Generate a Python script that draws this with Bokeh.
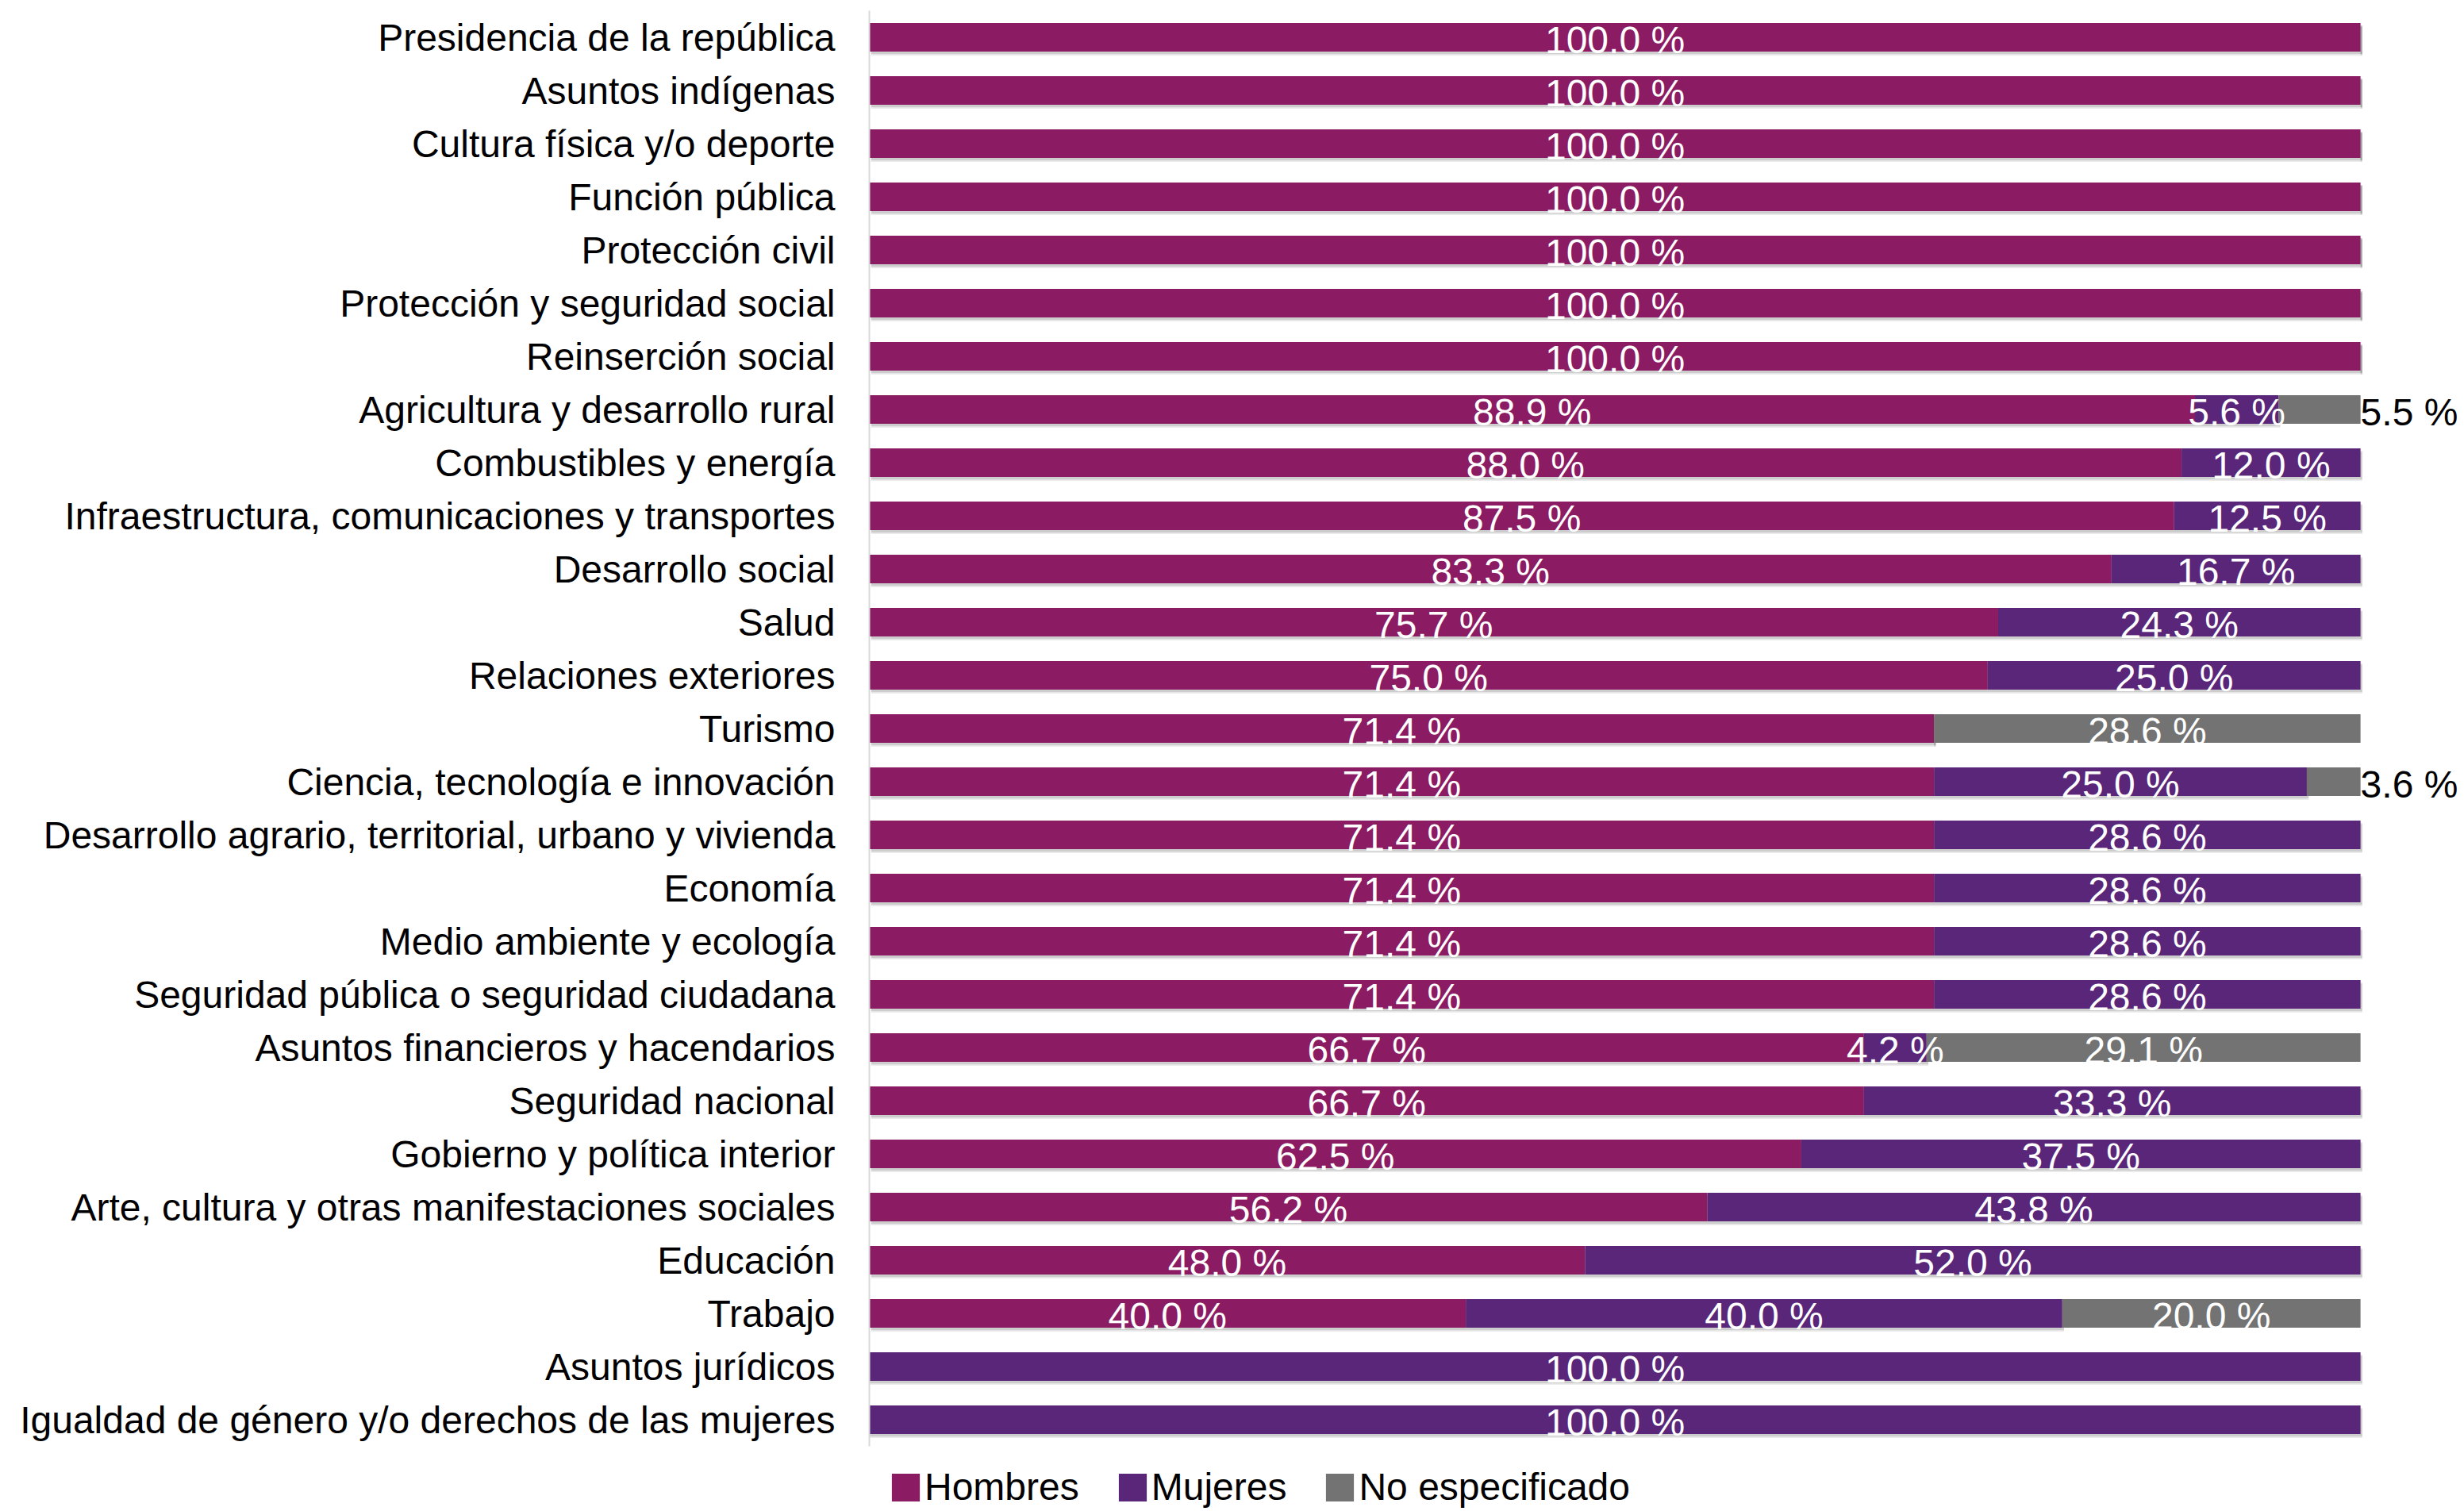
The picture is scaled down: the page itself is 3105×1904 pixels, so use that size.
from bokeh.plotting import figure
from bokeh.models import ColumnDataSource, Legend, LegendItem, FactorRange, Range1d
from bokeh.transform import dodge
from bokeh.core.properties import value
from bokeh.embed import file_html
from bokeh.resources import INLINE

categories = [
    "Presidencia de la república",
    "Asuntos indígenas",
    "Cultura física y/o deporte",
    "Función pública",
    "Protección civil",
    "Protección y seguridad social",
    "Reinserción social",
    "Agricultura y desarrollo rural",
    "Combustibles y energía",
    "Infraestructura, comunicaciones y transportes",
    "Desarrollo social",
    "Salud",
    "Relaciones exteriores",
    "Turismo",
    "Ciencia, tecnología e innovación",
    "Desarrollo agrario, territorial, urbano y vivienda",
    "Economía",
    "Medio ambiente y ecología",
    "Seguridad pública o seguridad ciudadana",
    "Asuntos financieros y hacendarios",
    "Seguridad nacional",
    "Gobierno y política interior",
    "Arte, cultura y otras manifestaciones sociales",
    "Educación",
    "Trabajo",
    "Asuntos jurídicos",
    "Igualdad de género y/o derechos de las mujeres",
]
hombres = [100.0, 100.0, 100.0, 100.0, 100.0, 100.0, 100.0, 88.9, 88.0, 87.5, 83.3, 75.7, 75.0,
           71.4, 71.4, 71.4, 71.4, 71.4, 71.4, 66.7, 66.7, 62.5, 56.2, 48.0, 40.0, 0.0, 0.0]
mujeres = [0.0, 0.0, 0.0, 0.0, 0.0, 0.0, 0.0, 5.6, 12.0, 12.5, 16.7, 24.3, 25.0,
           0.0, 25.0, 28.6, 28.6, 28.6, 28.6, 4.2, 33.3, 37.5, 43.8, 52.0, 40.0, 100.0, 100.0]
no_especificado = [0.0, 0.0, 0.0, 0.0, 0.0, 0.0, 0.0, 5.5, 0.0, 0.0, 0.0, 0.0, 0.0,
                   28.6, 3.6, 0.0, 0.0, 0.0, 0.0, 29.1, 0.0, 0.0, 0.0, 0.0, 20.0, 0.0, 0.0]
series_names = ["Hombres", "Mujeres", "No especificado"]
colors = ["#8B1B62", "#592679", "#737373"]

FONT = "Liberation Sans"
FS = "48px"

factors = list(reversed(categories))
p = figure(frame_width=2005, frame_height=1809,
           y_range=FactorRange(factors=factors, range_padding=0),
           x_range=Range1d(0, 106.7),
           x_axis_location=None,
           output_backend="svg", toolbar_location=None,
           min_border_left=1095, min_border_right=0,
           min_border_top=13, min_border_bottom=0)

series = [hombres, mujeres, no_especificado]
renderers = []
label_x, label_y, label_t, label_c, label_a = [], [], [], [], []
lefts = [0.0] * len(categories)
for si, (name, vals, col) in enumerate(zip(series_names, series, colors)):
    l = list(lefts)
    r = [a + b for a, b in zip(l, vals)]
    src = ColumnDataSource(dict(cat=categories, left=l, right=r, val=vals))
    if si < 2:
        # soft drop shadow under the bar
        shl = [a + 0.12 for a in l]
        shr = [a + 0.12 if v > 0 else a for a, v in zip(r, vals)]
        ssrc = ColumnDataSource(dict(cat=categories, left=shl, right=shr))
        p.hbar(y=dodge("cat", -0.07, range=p.y_range), left="left", right="right", height=0.54,
               source=ssrc, fill_color="black", fill_alpha=0.10, line_color=None)
        p.hbar(y=dodge("cat", -0.045, range=p.y_range), left="left", right="right", height=0.54,
               source=ssrc, fill_color="black", fill_alpha=0.10, line_color=None)
    rr = p.hbar(y="cat", left="left", right="right", height=0.54, source=src,
                fill_color=col, line_color=None)
    renderers.append(rr)
    for c, a, b, v in zip(categories, l, r, vals):
        if v <= 0:
            continue
        txt = f"{v:.1f} %"
        if si == 2 and v < 10:
            label_x.append(b); label_a.append("left"); label_c.append("black")
        else:
            label_x.append((a + b) / 2); label_a.append("center"); label_c.append("white")
        label_y.append(c); label_t.append(txt)
    lefts = r

lsrc = ColumnDataSource(dict(x=label_x, y=label_y, t=label_t, c=label_c, a=label_a))
p.text(x="x", y="y", text="t", source=lsrc, text_color="c", text_align="a",
       text_baseline="middle", y_offset=3,
       text_font=value(FONT), text_font_size=FS)

legend = Legend(items=[LegendItem(label=n, renderers=[rr]) for n, rr in zip(series_names, renderers)],
                orientation="horizontal", location="top_left",
                glyph_width=44, glyph_height=44, label_standoff=2, spacing=45,
                padding=0, margin=24, border_line_color=None, background_fill_alpha=0,
                label_text_font=FONT, label_text_font_size=FS, label_text_color="black")
p.add_layout(legend, "below")

ax = p.yaxis[0]
ax.axis_line_color = "#D9D9D9"
ax.axis_line_width = 2
ax.major_tick_line_color = None
ax.minor_tick_line_color = None
ax.major_label_standoff = 37
ax.major_label_text_font = FONT
ax.major_label_text_font_size = FS
ax.major_label_text_color = "black"

p.xgrid.grid_line_color = None
p.ygrid.grid_line_color = None
p.outline_line_color = None
p.background_fill_color = "white"
p.border_fill_color = "white"

open("out.html", "w").write(file_html(p, INLINE))
